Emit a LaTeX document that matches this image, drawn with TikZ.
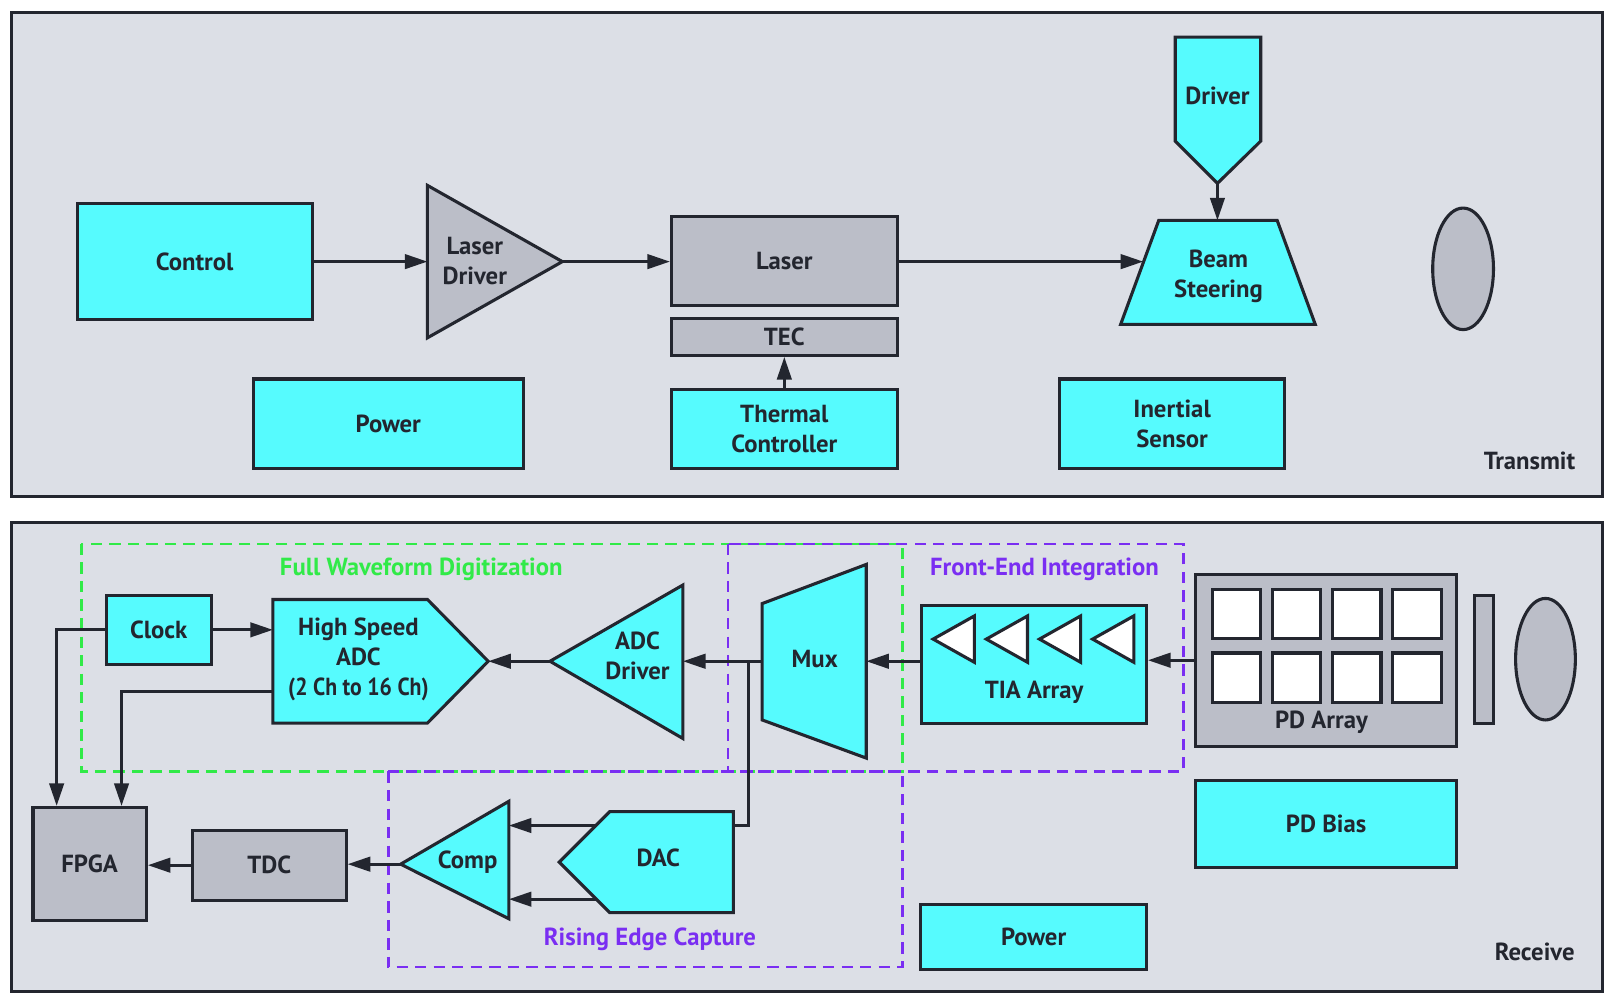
\documentclass[tikz,border=0pt]{standalone}
\usepackage{fontspec}
\usepackage{graphicx}
\setmainfont{PT Sans}
\usetikzlibrary{arrows.meta}
\definecolor{ink}{HTML}{23262F}
\definecolor{panel-grey}{HTML}{DCDFE6}
\definecolor{chip-cyan}{HTML}{56FBFE}
\definecolor{chip-grey}{HTML}{BBBEC8}
\definecolor{group-green}{HTML}{31EA48}
\definecolor{group-purple}{HTML}{7A2EF2}

\begin{document}
\begin{tikzpicture}[x=1pt, y=-1pt,
    every node/.style={text=ink, font=\bfseries\fontsize{24}{29}\selectfont, align=center},
    panel/.style={draw=ink, fill=panel-grey, line width=3pt},
    cyanbox/.style={draw=ink, fill=chip-cyan, line width=3pt},
    greybox/.style={draw=ink, fill=chip-grey, line width=3pt},
    cell/.style={draw=ink, fill=white, line width=3pt},
    wire/.style={draw=ink, line width=3pt},
    feed/.style={wire, -{Triangle[length=22pt, width=14pt]}},
    group/.style={line width=2.5pt, dash pattern=on 11pt off 7pt}]
    \fill[white] (0,0) rectangle (1568,975);
    \useasboundingbox (0,0) rectangle (1568,975);

    \draw[panel] (11,12) rectangle (1556,482);
    \node[cyanbox, minimum width=228pt, minimum height=112pt] (control) at (189,254) {Control};
    \draw[greybox] (415,180) -- (546,254) -- (415,328) -- cycle;
    \coordinate (ldrv-in) at (415,254);
    \coordinate (ldrv-out) at (546,254);
    \node (ldrv) at (461,253) {Laser\\Driver};
    \node[greybox, minimum width=219pt, minimum height=87pt] (laser) at (761.5,253.5) {Laser};
    \node[greybox, minimum width=219pt, minimum height=36pt] (tec) at (761.5,327) {TEC};
    \node[cyanbox, minimum width=219pt, minimum height=77pt] (thermal) at (761.5,416.5) {Thermal\\Controller};
    \node[cyanbox, minimum width=262pt, minimum height=87pt] (powertx) at (377,411.5) {Power};
    \draw[cyanbox] (1141,36) -- (1224,36) -- (1224,137) -- (1182,178) -- (1141,137) -- cycle;
    \coordinate (driver-tip) at (1182,178);
    \node (driver) at (1182,93) {Driver};
    \draw[cyanbox] (1125,214) -- (1240,214) -- (1277,315) -- (1088,315) -- cycle;
    \coordinate (beam-top) at (1182,214);
    \coordinate (beam-in) at (1110,254);
    \node (beam) at (1183,268) {Beam\\Steering};
    \draw[greybox] (1420.5,261) ellipse [x radius=29.5, y radius=59];
    \node[cyanbox, minimum width=218pt, minimum height=87pt] (inertial) at (1138,411.5) {Inertial\\Sensor};
    \node (txlabel) at (1485,447) {Transmit};

    \draw[feed] (control.east) -- (ldrv-in);
    \draw[feed] (ldrv-out) -- (ldrv-out -| laser.west);
    \draw[feed] (laser.east |- beam-in) -- (beam-in);
    \draw[feed] (thermal.north) -- (tec.south);
    \draw[feed] (driver-tip) -- (beam-top);

    \draw[panel] (11,507) rectangle (1556,963);
    \draw[group, group-green] (79,528) rectangle (876,749);
    \draw[group, group-purple] (707,528) rectangle (1149,749);
    \draw[group, group-purple] (377,749) rectangle (876,939);
    \node[text=group-green] (fwd) at (409,553) {Full Waveform Digitization};
    \node[text=group-purple] (fei) at (1014,553) {Front-End Integration};
    \node[text=group-purple] (rec) at (631,912) {Rising Edge Capture};

    \node[cyanbox, minimum width=102pt, minimum height=67pt] (clock) at (154,611.5) {Clock};
    \draw[cyanbox] (265,582) -- (415,582) -- (474,642) -- (415,702) -- (265,702) -- cycle;
    \coordinate (adc-in) at (265,611.5);
    \coordinate (adc-data) at (265,671);
    \coordinate (adc-tip) at (474,642);
    \node (adc) at (348,640) {High Speed\\ADC\\\scalebox{0.88}[1]{(2 Ch to 16 Ch)}};
    \draw[cyanbox] (663,568) -- (663,717) -- (534,642) -- cycle;
    \coordinate (adcdrv-in) at (663,642);
    \coordinate (adcdrv-out) at (534,642);
    \node (adcdrv) at (619,637) {ADC\\Driver};
    \draw[cyanbox] (740,586) -- (841,548) -- (841,736) -- (740,699) -- cycle;
    \coordinate (mux-out) at (740,642);
    \coordinate (mux-in) at (841,642);
    \coordinate (tap) at (727,642);
    \node (mux) at (791,640) {Mux};
    \node[cyanbox, minimum width=218pt, minimum height=114pt] (tia) at (1004,645) {};
    \foreach \i in {0,...,3}
        \draw[cell] ({906+51.6*\i},620.5) -- ({946+51.6*\i},598) -- ({946+51.6*\i},643) -- cycle;
    \node (tialabel) at (1004,672) {TIA Array};
    \node[greybox, minimum width=253pt, minimum height=167pt] (pdarray) at (1287.5,641) {};
    \foreach \c in {0,...,3}
        \foreach \r in {0,1}
            \draw[cell] ({1177+58.4*\c},{572+62*\r}) rectangle +(47,48);
    \node (pdlabel) at (1283,701) {PD Array};
    \draw[greybox] (1432,578) rectangle (1450,702);
    \draw[greybox] (1500.5,640) ellipse [x radius=29, y radius=59];
    \node[cyanbox, minimum width=253pt, minimum height=84pt] (pdbias) at (1287.5,800) {PD Bias};
    \node[cyanbox, minimum width=219pt, minimum height=63pt] (powerrx) at (1003.5,909.5) {Power};

    \node[greybox, minimum width=110pt, minimum height=110pt] (fpga) at (87,839) {FPGA};
    \node[greybox, minimum width=149pt, minimum height=68pt] (tdc) at (261.5,840) {TDC};
    \draw[cyanbox] (494,778) -- (494,892) -- (389,839) -- cycle;
    \coordinate (comp-out) at (389,839);
    \coordinate (comp-in) at (494,839);
    \node (comp) at (454,837) {Comp};
    \draw[cyanbox] (543,837) -- (592,788) -- (712,788) -- (712,886) -- (592,886) -- cycle;
    \coordinate (dac-up) at (578,801.5);
    \coordinate (dac-dn) at (579,873);
    \coordinate (dac-east) at (712,801.5);
    \node (dac) at (639,833) {DAC};
    \node (rxlabel) at (1490,924) {Receive};

    \draw[feed] (clock.east) -- (adc-in);
    \draw[feed] (clock.west) -| ([xshift=-32pt]fpga.north);
    \draw[feed] (adc-data) -| ([xshift=31pt]fpga.north);
    \draw[feed] (adcdrv-out) -- (adc-tip);
    \draw[feed] (mux-out) -- (adcdrv-in);
    \draw[wire] (tap) |- (dac-east);
    \draw[feed] (mux-in -| tia.west) -- (mux-in);
    \draw[feed] (pdarray.west) -- (pdarray.west -| tia.east);
    \draw[feed] (dac-up) -- (dac-up -| comp-in);
    \draw[feed] (dac-dn) -- (dac-dn -| comp-in);
    \draw[feed] (comp-out) -- (comp-out -| tdc.east);
    \draw[feed] (tdc.west) -- (tdc.west -| fpga.east);
\end{tikzpicture}
\end{document}
